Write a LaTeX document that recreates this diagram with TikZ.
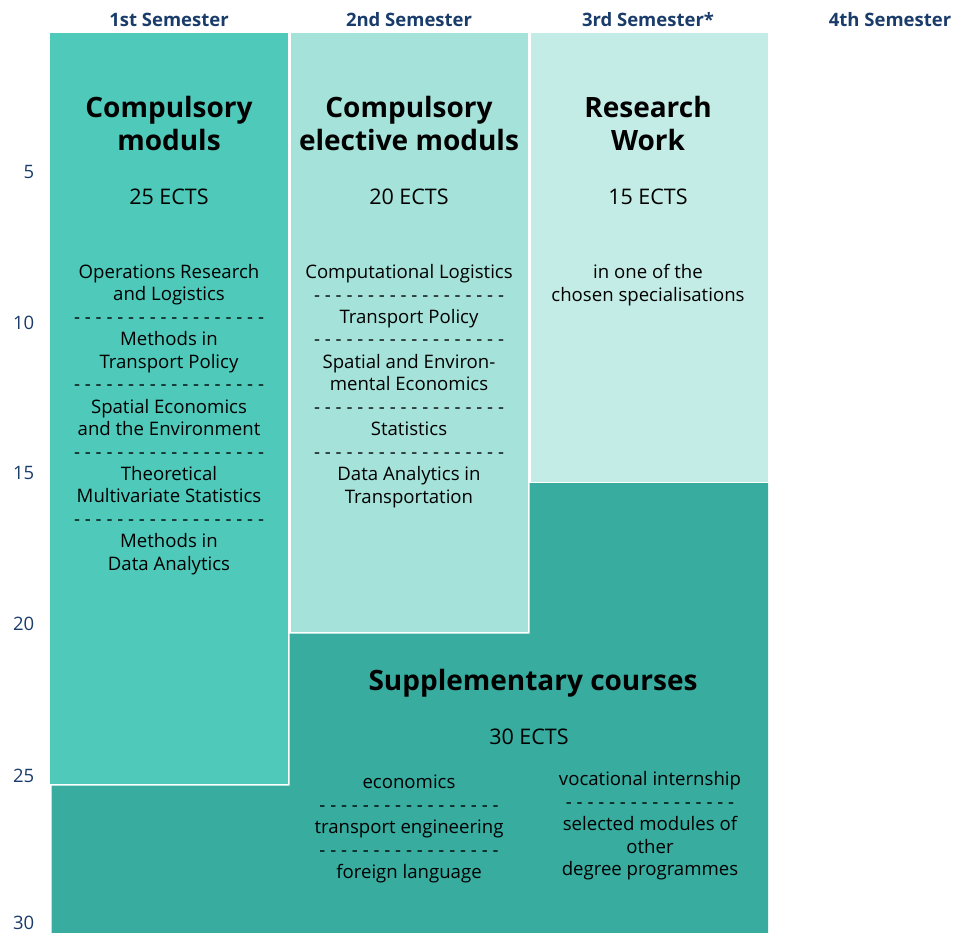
\documentclass[tikz,border=0pt]{standalone}
\usepackage{fontspec}
\setmainfont{Open Sans}
\usetikzlibrary{positioning,calc}
\definecolor{compgreen}{HTML}{4FC9BA}
\definecolor{electgreen}{HTML}{A5E2DA}
\definecolor{researchgreen}{HTML}{C4ECE6}
\definecolor{suppgreen}{HTML}{37AC9F}
\definecolor{semblue}{HTML}{1A3C6A}

\begin{document}
\begin{tikzpicture}[x=1pt, y=-1pt, inner sep=0pt]
	\tikzstyle{sem}=[font=\bfseries\fontsize{18.5}{22}\selectfont, text=semblue]
	\tikzstyle{axislabel}=[font=\fontsize{18.5}{22}\selectfont, text=semblue, anchor=east]
	\tikzstyle{boxtitle}=[font=\bfseries\fontsize{28}{33}\selectfont, align=center]
	\tikzstyle{ects}=[font=\fontsize{21.5}{26}\selectfont]
	\tikzstyle{items}=[font=\fontsize{18.6}{22.45}\selectfont, align=center]
	\useasboundingbox (0,0) rectangle (956,933);

	% blocks
	\fill[suppgreen] (51.5,785.5) -- (289.5,785.5) -- (289.5,633.5) -- (529.5,633.5)
		-- (529.5,483) -- (768,483) -- (768,933) -- (51.5,933) -- cycle;
	\fill[compgreen] (50,33) rectangle (288,783.5);
	\fill[electgreen] (291,33) rectangle (528,631.5);
	\fill[researchgreen] (531,33) rectangle (768,481.5);

	% semesters
	\node[sem] (s1) at (169,20) {1st Semester};
	\node[sem] (s2) at (409,20) {2nd Semester};
	\node[sem] (s3) at (648,20) {3rd Semester*};
	\node[sem] (s4) at (890,20) {4th Semester};

	% ECTS scale
	\node[axislabel] (e5)  at (34.5,172) {5};
	\node[axislabel] (e10) at (34.5,322.5) {10};
	\node[axislabel] (e15) at (34.5,472.5) {15};
	\node[axislabel] (e20) at (34.5,623.5) {20};
	\node[axislabel] (e25) at (34.5,775.5) {25};
	\node[axislabel] (e30) at (34.5,922.5) {30};

	% 1st semester
	\node[boxtitle] (compT) at (169,124) {Compulsory\\moduls};
	\node[ects] (compE) at (169,197) {25 ECTS};
	\node[items] (compL) at (169,419.5) {Operations Research\\and Logistics\\
		- - - - - - - - - - - - - - - - - -\\Methods in\\Transport Policy\\
		- - - - - - - - - - - - - - - - - -\\Spatial Economics\\and the Environment\\
		- - - - - - - - - - - - - - - - - -\\Theoretical\\Multivariate Statistics\\
		- - - - - - - - - - - - - - - - - -\\Methods in\\Data Analytics};

	% 2nd semester
	\node[boxtitle] (electT) at (409,124) {Compulsory\\elective moduls};
	\node[ects] (electE) at (409,197) {20 ECTS};
	\node[items] (electL) at (409,386) {Computational Logistics\\
		- - - - - - - - - - - - - - - - - -\\Transport Policy\\
		- - - - - - - - - - - - - - - - - -\\Spatial and Environ-\\mental Economics\\
		- - - - - - - - - - - - - - - - - -\\Statistics\\
		- - - - - - - - - - - - - - - - - -\\Data Analytics in\\Transportation};

	% 3rd semester
	\node[boxtitle] (resT) at (648,124) {Research\\Work};
	\node[ects] (resE) at (648,197) {15 ECTS};
	\node[items] (resL) at (648,285) {in one of the\\chosen specialisations};

	% supplementary
	\node[boxtitle] (suppT) at (533,683) {Supplementary courses};
	\node[ects] (suppE) at (529,737) {30 ECTS};
	\node[items] (suppA) at (409,829) {economics\\- - - - - - - - - - - - - - - - -\\
		transport engineering\\- - - - - - - - - - - - - - - - -\\foreign language};
	\node[items] (suppB) at (650,826) {vocational internship\\- - - - - - - - - - - - - - - -\\
		selected modules of\\other\\degree programmes};
\end{tikzpicture}
\end{document}
